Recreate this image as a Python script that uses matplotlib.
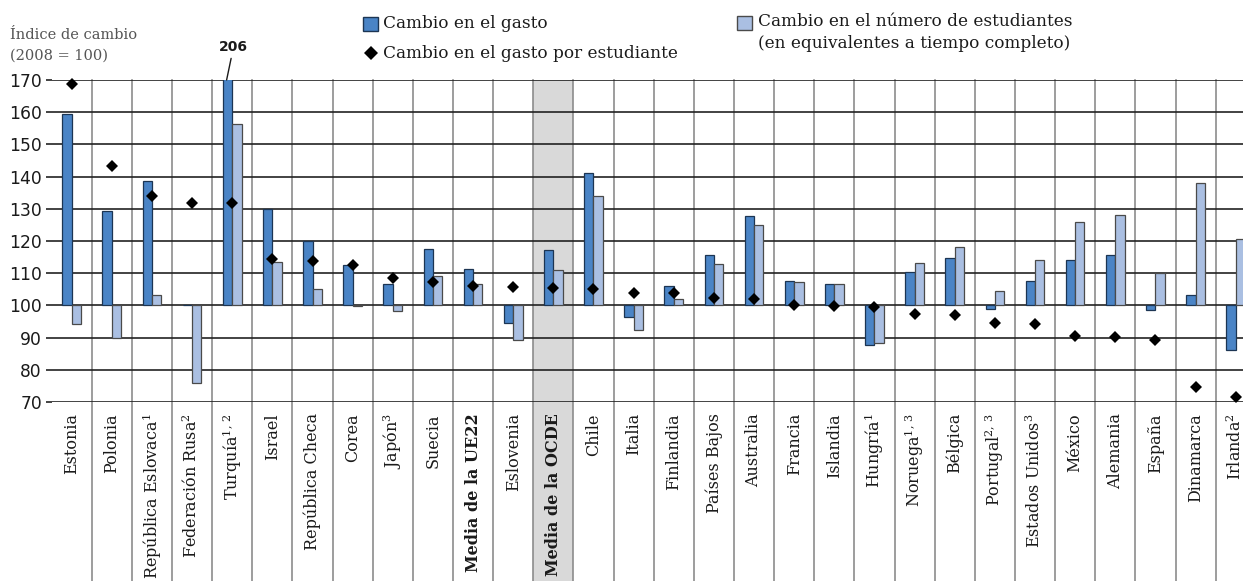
import matplotlib
matplotlib.use('Agg')
import matplotlib.pyplot as plt
from matplotlib.patches import Rectangle
from matplotlib.lines import Line2D
import matplotlib.transforms as mtransforms

plt.rcParams['mathtext.fontset'] = 'dejavuserif'

# ============================================================
# Data (index of change, 2008 = 100)
# ============================================================
countries = [
    'Estonia', 'Polonia', r'República Eslovaca$^{1}$', r'Federación Rusa$^{2}$',
    r'Turquía$^{1,\,2}$', 'Israel', 'República Checa', 'Corea', r'Japón$^{3}$',
    'Suecia', 'Media de la UE22', 'Eslovenia', 'Media de la OCDE', 'Chile',
    'Italia', 'Finlandia', 'Países Bajos', 'Australia', 'Francia', 'Islandia',
    r'Hungría$^{1}$', r'Noruega$^{1,\,3}$', 'Bélgica', r'Portugal$^{2,\,3}$',
    r'Estados Unidos$^{3}$', 'México', 'Alemania', 'España', 'Dinamarca',
    r'Irlanda$^{2}$',
]
gasto = [159.5, 129.3, 138.6, 100.2, 206, 130.0, 120.0, 112.6, 106.6,
         117.4, 111.2, 94.6, 117.1, 141.0, 96.3, 106.0, 115.7, 127.8,
         107.6, 106.8, 87.6, 110.3, 114.7, 98.9, 107.5, 114.1, 115.7,
         98.5, 103.2, 86.1]
estudiantes = [94.3, 89.9, 103.1, 75.9, 156.3, 113.4, 105.1, 99.8, 98.2,
               109.0, 106.6, 89.4, 110.9, 133.9, 92.5, 101.9, 113.0, 125.0,
               107.4, 106.7, 88.2, 113.1, 118.2, 104.6, 114.1, 126.0, 128.1,
               110.2, 138.0, 120.5]
gasto_por_estudiante = [168.7, 143.4, 134.1, 131.8, 131.8, 114.5, 113.9, 112.5,
                        108.4, 107.3, 105.9, 105.7, 105.4, 105.2, 104.0, 103.8,
                        102.2, 102.1, 100.1, 99.9, 99.6, 97.4, 96.9, 94.4,
                        94.1, 90.5, 90.2, 89.2, 74.7, 71.5]
bold_labels = ['Media de la UE22', 'Media de la OCDE']
highlight = 'Media de la OCDE'
yticks = list(range(70, 171, 10))

# ============================================================
# Figure
# ============================================================
W, H = 1243, 581
fig = plt.figure(figsize=(W / 100, H / 100), dpi=100)


def fx(px):
    return px / W


def fy(py):
    return 1 - py / H


ax_left, ax_right, ax_top, ax_bot = 51.6, 1255.8, 80, 402
ax = fig.add_axes([fx(ax_left), fy(ax_bot), fx(ax_right - ax_left), fy(ax_top) - fy(ax_bot)])
ax.set_xlim(-0.5, len(countries) - 0.5)
ax.set_ylim(70, 170)
ax.patch.set_alpha(0)

dark = '#4a84c6'
light = '#aabfe2'
text_col = '#1a1a1a'
grid_col = '#8c8c8c'

n = len(countries)
xs = list(range(n))
bw = 0.232

# shaded OECD column, running through the label area
trans = mtransforms.blended_transform_factory(ax.transData, fig.transFigure)
k = countries.index(highlight)
ax.add_patch(Rectangle((k - 0.5, 0), 1, fy(ax_top), transform=trans,
                       facecolor='#d9d9d9', edgecolor='none', zorder=0, clip_on=False))

# vertical separators
for i in range(n):
    ax.add_line(Line2D([i + 0.5, i + 0.5], [0, fy(ax_top)], transform=trans,
                       color=grid_col, lw=1.2, zorder=0.5, clip_on=False))

# horizontal grid
for v in yticks:
    ax.axhline(v, color='#222222', lw=1.2, zorder=1)

ax.bar([x - bw / 2 for x in xs], [g - 100 for g in gasto], bw, bottom=100,
       color=dark, edgecolor='#1c3553', linewidth=0.9, zorder=3)
ax.bar([x + bw / 2 for x in xs], [e - 100 for e in estudiantes], bw, bottom=100,
       color=light, edgecolor='#4a4a4a', linewidth=0.9, zorder=3)
ax.plot(xs, gasto_por_estudiante, linestyle='none', marker='D', markersize=6.5,
        color='black', markeredgewidth=0, zorder=4, clip_on=False)

# off-scale value for Turkey
it = 4
ax.annotate('206', xy=(it - 0.14, 170), xytext=(it + 0.03, 178),
            textcoords='data', ha='center', va='bottom', fontsize=10,
            fontweight='bold', color=text_col, annotation_clip=False,
            arrowprops=dict(arrowstyle='-', color=text_col, lw=1, shrinkA=1, shrinkB=0))

for s in ax.spines.values():
    s.set_visible(False)

ax.set_yticks(yticks)
ax.tick_params(axis='y', length=4, width=1.2, color='#222222', pad=3,
               labelsize=12.3, labelcolor=text_col)
ax.set_xticks(xs)
ax.set_xticklabels(countries, rotation=90, va='top', ha='center',
                   family='DejaVu Serif', fontsize=11.5, color=text_col)
ax.tick_params(axis='x', length=0, pad=8)
for lab, name in zip(ax.get_xticklabels(), countries):
    if name in bold_labels:
        lab.set_fontweight('bold')

# y axis title
fig.text(fx(10), fy(35), 'Índice de cambio', family='DejaVu Serif', fontsize=10.5,
         color='#555555', va='center', ha='left')
fig.text(fx(10), fy(56), '(2008 = 100)', family='DejaVu Serif', fontsize=10.5,
         color='#555555', va='center', ha='left')

# legend
fig.patches.append(Rectangle((fx(363), fy(31)), fx(15), fy(17) - fy(31),
                             transform=fig.transFigure, facecolor=dark,
                             edgecolor='#1c3553', lw=1))
fig.text(fx(383), fy(24), 'Cambio en el gasto', family='DejaVu Serif', fontsize=12.2,
         color=text_col, va='center', ha='left')
fig.lines.append(Line2D([fx(370.7)], [fy(53)], transform=fig.transFigure,
                        marker='D', markersize=7.5, color='black', markeredgewidth=0))
fig.text(fx(383), fy(53), 'Cambio en el gasto por estudiante', family='DejaVu Serif',
         fontsize=12.2, color=text_col, va='center', ha='left')
fig.patches.append(Rectangle((fx(737), fy(30)), fx(15), fy(16) - fy(30),
                             transform=fig.transFigure, facecolor=light,
                             edgecolor='#4a4a4a', lw=1))
fig.text(fx(758), fy(22), 'Cambio en el número de estudiantes', family='DejaVu Serif',
         fontsize=12.2, color=text_col, va='center', ha='left')
fig.text(fx(758), fy(44), '(en equivalentes a tiempo completo)', family='DejaVu Serif',
         fontsize=12.2, color=text_col, va='center', ha='left')

fig.savefig('out.png', dpi=100)
